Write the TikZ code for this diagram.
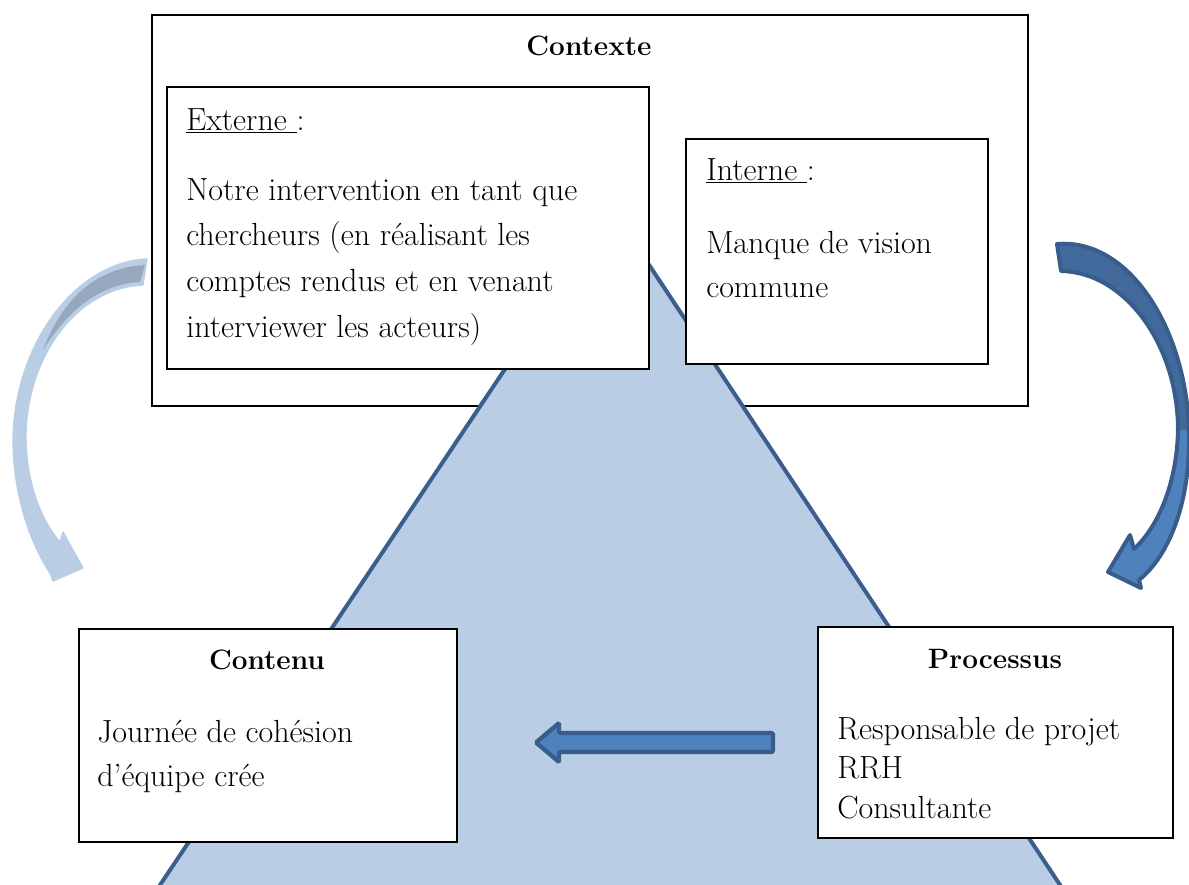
\documentclass[tikz,border=0pt]{standalone}
\usepackage{fontspec}
\usetikzlibrary{positioning}
\definecolor{trifill}{HTML}{B9CDE5}
\definecolor{triline}{HTML}{3A5F8C}
\definecolor{arrfill}{HTML}{4F81BD}
\definecolor{arrline}{HTML}{385D8A}
\definecolor{arrback}{HTML}{41699B}
\definecolor{paleback}{HTML}{95A8BE}
\tikzset{
  box/.style={draw=black,line width=1.5pt,fill=white,inner sep=0pt,anchor=north west},
  txt/.style={inner sep=0pt,anchor=base west,font=\fontsize{24}{30}\selectfont},
  ttl/.style={inner sep=0pt,anchor=base,font=\fontsize{21}{26}\selectfont\bfseries},
}

\begin{document}
\begin{tikzpicture}[x=0.75pt,y=-0.75pt]
\useasboundingbox (0,0) rectangle (1189,885);
\clip (0,0) rectangle (1189,885);
% outer frame and triangle behind
\node[box,minimum width=657pt,minimum height=293.25pt] (ctx) at (151,14) {};
\draw[fill=trifill,draw=triline,line width=3pt] (612,209) -- (1070,900) -- (150,900) -- cycle;
% boxes
\node[box,minimum width=361.5pt,minimum height=211.5pt] (ext) at (166,86) {};
\node[box,minimum width=226.5pt,minimum height=168.75pt] (int) at (685,138) {};
\node[box,minimum width=283.5pt,minimum height=159.75pt] (cnt) at (78,628) {};
\node[box,minimum width=266.25pt,minimum height=158.25pt] (prc) at (817,626) {};
% straight arrow
\draw[fill=arrfill,draw=arrline,line width=3.2pt,rounded corners=1pt] (773,733) -- (559,733) -- (559,723) -- (536,742.5) -- (559,762) -- (559,752) -- (773,752) -- cycle;
% curved arrow, left
\draw[fill=trifill,draw=trifill,line width=1pt,line join=round] (147,259) .. controls (75,262) and (14,345) .. (13,440) .. controls (13,490) and (28,540) .. (50,573) -- (53,581) -- (83,568) -- (63,532) -- (60,542) .. controls (45,525) and (27,490) .. (26,440) .. controls (25,360) and (75,288) .. (143,285) -- cycle;
\fill[paleback] (145,265) .. controls (95,268) and (62,300) .. (43,350) .. controls (68,310) and (100,284) .. (140,282) -- cycle;
% curved arrow, right
\fill[arrfill] (1057,244) .. controls (1130,238) and (1186,330) .. (1189,430) .. controls (1191,500) and (1170,555) .. (1139,580) -- (1141,588) -- (1108,572) -- (1130,535) -- (1134,549) .. controls (1160,525) and (1177,480) .. (1178,430) .. controls (1178,345) and (1125,272) .. (1061,271) -- cycle;
\fill[arrback] (1057,244) .. controls (1130,238) and (1186,330) .. (1189,430) -- (1178,430) .. controls (1178,345) and (1125,272) .. (1061,271) -- cycle;
\draw[draw=arrline,line width=3pt,line join=round] (1057,244) .. controls (1130,238) and (1186,330) .. (1189,430) .. controls (1191,500) and (1170,555) .. (1139,580) -- (1141,588) -- (1108,572) -- (1130,535) -- (1134,549) .. controls (1160,525) and (1177,480) .. (1178,430) .. controls (1178,345) and (1125,272) .. (1061,271) -- cycle;
% texts
\node[ttl] (ctxttl) at (589,55) {Contexte};
\node[txt] (extttl) at (186,130) {\underline{Externe\ }:};
\foreach \t [count=\i] in {{Notre intervention en tant que},{chercheurs (en réalisant les},{comptes rendus et en venant},{interviewer les acteurs)}}
  \node[txt] (ext\i) at (186,{200+45.7*(\i-1)}) {\t};
\node[txt] (intttl) at (706,180) {\underline{Interne\ }:};
\node[txt] (int1) at (706,253) {Manque de vision};
\node[txt] (int2) at (706,297) {commune};
\node[ttl] (cntttl) at (267,669) {Contenu};
\node[txt] (cnt1) at (97,742) {Journée de cohésion};
\node[txt] (cnt2) at (97,786) {d’équipe crée};
\node[ttl] (prcttl) at (995,668) {Processus};
\foreach \t [count=\i] in {{Responsable de projet},{RRH},{Consultante}}
  \node[txt] (prc\i) at (837,{739+39.5*(\i-1)}) {\t};
\end{tikzpicture}
\end{document}
